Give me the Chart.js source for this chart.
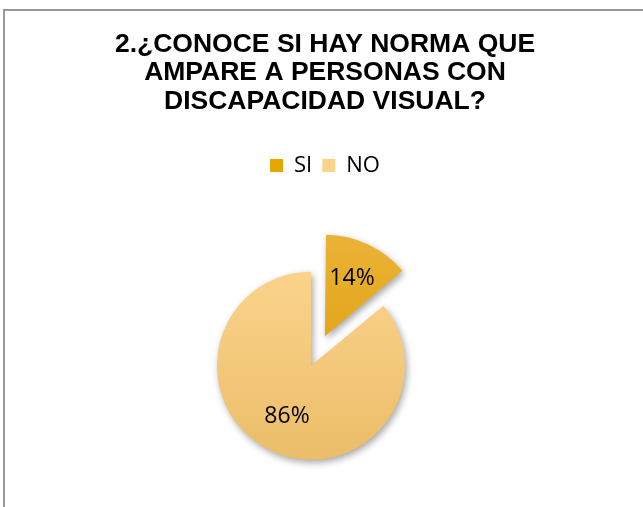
<!DOCTYPE html>
<html>
<head>
<meta charset="utf-8">
<script src="https://cdn.jsdelivr.net/npm/chart.js@4.4.0/dist/chart.umd.min.js"></script>
<style>
  html, body { margin: 0; padding: 0; background: #fff; overflow: hidden; }
  #wrap { position: relative; width: 643px; height: 507px; }
  #frame { position: absolute; left: 3px; top: 9px; width: 700px; height: 600px;
           border-top: 2px solid #999; border-left: 2px solid #999; }
  canvas { position: absolute; left: 0; top: 0; }
</style>
</head>
<body>
<div id="wrap">
  <div id="frame"></div>
  <canvas id="chart" width="643" height="507"></canvas>
</div>
<script>
const titleLines = ["2.¿CONOCE SI HAY NORMA QUE", "AMPARE A PERSONAS CON", "DISCAPACIDAD VISUAL?"];
const categories = ["SI", "NO"];
const percentages = [14, 86];

const legendColors = ["#e6a600", "#fcd386"];
const topColors = ["#edb63f", "#fed893"];
const bottomColors = ["#db9c00", "#ebbd68"];

// the pie sits a bit left of and below the middle of the plot area
const shift = { x: -14, y: 19 };

const pieExtras = {
  id: "pieExtras",
  beforeDatasetsDraw(chart) {
    const c = chart.ctx;
    c.save();
    c.translate(shift.x, shift.y);
    c.shadowColor = "rgba(0,0,0,0.35)";
    c.shadowBlur = 7;
    c.shadowOffsetX = 2;
    c.shadowOffsetY = 3;
  },
  afterDatasetsDraw(chart) {
    const c = chart.ctx;
    c.shadowColor = "transparent";
    const meta = chart.getDatasetMeta(0);
    c.font = "23px 'Open Sans'";
    c.fillStyle = "#000";
    c.textAlign = "center";
    c.textBaseline = "middle";
    meta.data.forEach((arc, i) => {
      const mid = (arc.startAngle + arc.endAngle) / 2;
      const circ = arc.endAngle - arc.startAngle;
      const off = (arc.options.offset || 0) / 4;
      const moved = off * (2 - Math.sin(Math.min(Math.PI, circ)));
      const r = arc.outerRadius * 0.6 + moved;
      c.fillText(percentages[i] + "%", arc.x + Math.cos(mid) * r, arc.y + Math.sin(mid) * r);
    });
    c.restore();
  }
};

function sliceFill(ctx) {
  const chart = ctx.chart;
  const i = ctx.dataIndex;
  const area = chart.chartArea;
  if (!area) return legendColors[i];
  const cy = (area.top + area.bottom) / 2;
  const g = chart.ctx.createLinearGradient(0, cy - 135, 0, cy + 95);
  g.addColorStop(0, topColors[i]);
  g.addColorStop(1, bottomColors[i]);
  return g;
}

new Chart(document.getElementById("chart"), {
  type: "pie",
  data: {
    labels: categories,
    datasets: [{
      data: percentages,
      backgroundColor: sliceFill,
      borderWidth: 0,
      offset: [130, 0],
      hoverOffset: 0
    }]
  },
  options: {
    responsive: false,
    animation: false,
    radius: 94,
    layout: { padding: { left: 7 } },
    plugins: {
      title: {
        display: true,
        text: titleLines,
        color: "#000",
        font: { family: "'Liberation Sans', Arial, sans-serif", size: 26.5, weight: "bold", lineHeight: 1.075 },
        padding: { top: 30, bottom: 29 }
      },
      legend: {
        position: "top",
        labels: {
          color: "#000",
          font: { family: "'Open Sans'", size: 22 },
          boxWidth: 13,
          boxHeight: 13,
          padding: 10,
          generateLabels(chart) {
            const items = Chart.overrides.pie.plugins.legend.labels.generateLabels(chart);
            items.forEach((it, i) => {
              it.fillStyle = legendColors[i];
              it.strokeStyle = legendColors[i];
              it.lineWidth = 0;
            });
            return items;
          }
        }
      },
      tooltip: { enabled: false }
    }
  },
  plugins: [pieExtras]
});
</script>
</body>
</html>
